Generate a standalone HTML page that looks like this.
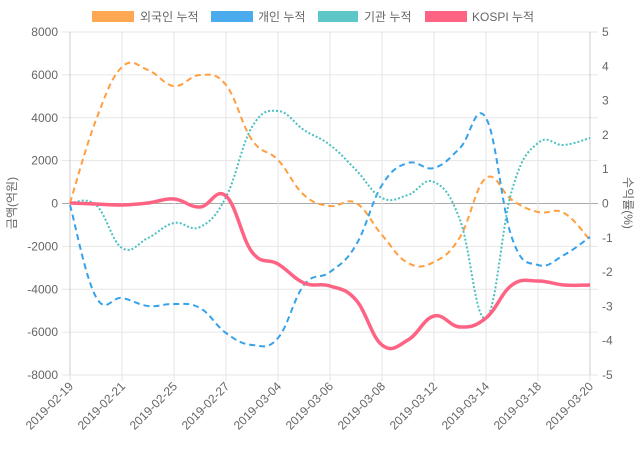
<!DOCTYPE html>
<html><head><meta charset="utf-8"><style>
body{margin:0;background:#fff;}
svg{display:block;font-family:"Liberation Sans","Noto Sans CJK KR",sans-serif;}
</style></head><body>
<svg id="c" width="640" height="450" xmlns="http://www.w3.org/2000/svg">
<g id="grid"></g>
<g font-size="12" fill="#666">
<rect x="92" y="11" width="42" height="11" fill="#ff9f40" opacity="0.9"/>
<text x="140" y="21">외국인 누적</text>
<rect x="211" y="11" width="42" height="11" fill="#36a2eb" opacity="0.9"/>
<text x="258" y="21">개인 누적</text>
<rect x="318" y="11" width="40" height="11" fill="#4bc0c0" opacity="0.9"/>
<text x="364" y="21">기관 누적</text>
<rect x="425" y="11" width="42" height="11" fill="#ff6384"/>
<text x="472" y="21">KOSPI 누적</text>
<text transform="translate(16,203) rotate(-90)" text-anchor="middle">금액(억원)</text>
<text transform="translate(624,203) rotate(90)" text-anchor="middle">수익률(%)</text>
</g>
<g id="lines"></g>
</svg>
<script>
(function(){
const NS="http://www.w3.org/2000/svg";
const g=document.getElementById('grid'),L=document.getElementById('lines');
function el(p,t,a,txt){const e=document.createElementNS(NS,t);for(const k in a)e.setAttribute(k,a[k]);if(txt!==undefined)e.textContent=txt;p.appendChild(e);return e;}
const yT=32,yB=375,x0=70,x1=590;
for(let i=0;i<=8;i++){const y=yT+(yB-yT)*i/8;const v=8000-2000*i;
 el(g,'line',{x1:62,x2:598,y1:y,y2:y,stroke:v==0?'#aaa':'#e6e6e6','stroke-width':1});
 el(g,'text',{x:58,y:y+4,'text-anchor':'end','font-size':12,fill:'#666'},String(v));
}
for(let i=0;i<=10;i++){const y=yT+(yB-yT)*i/10;el(g,'text',{x:602,y:y+4,'font-size':12,fill:'#666'},String(5-i));}
const labs=['2019-02-19','2019-02-21','2019-02-25','2019-02-27','2019-03-04','2019-03-06','2019-03-08','2019-03-12','2019-03-14','2019-03-18','2019-03-20'];
labs.forEach((s,i)=>{const x=x0+52*i;el(g,'line',{x1:x,x2:x,y1:yT,y2:yB+6,stroke:'#e6e6e6'});
 el(g,'text',{transform:'translate('+(x+4)+','+(yB+12)+') rotate(-45)','text-anchor':'end','font-size':12,fill:'#666'},s);});
el(g,'line',{x1:x0,x2:x0,y1:yT,y2:yB,stroke:'#ccc'});
el(g,'line',{x1:x1,x2:x1,y1:yT,y2:yB,stroke:'#ccc'});
function path(ys){const pts=ys.map((y,i)=>[x0+26*i,y]);let d='M'+pts[0][0]+','+pts[0][1];const t=0.2;
 for(let i=0;i<pts.length-1;i++){const p0=pts[Math.max(0,i-1)],p1=pts[i],p2=pts[i+1],p3=pts[Math.min(pts.length-1,i+2)];
  const c1=[p1[0]+(p2[0]-p0[0])*t,p1[1]+(p2[1]-p0[1])*t],c2=[p2[0]-(p3[0]-p1[0])*t,p2[1]-(p3[1]-p1[1])*t];
  d+=' C'+c1[0]+','+c1[1]+' '+c2[0]+','+c2[1]+' '+p2[0]+','+p2[1];}return d;}
const S=[
[[203,120,67,70,86,75,85,140,160,195,206,203,235,263,262,237,178,200,212,213,240],'#ff9f40','6,4',2],
[[205,297,298,306,304,308,333,345,338,285,272,245,185,163,168,148,118,238,265,255,237],'#36a2eb','6,4',2],
[[203,205,248,238,223,227,197,127,111,130,145,170,198,195,182,220,318,190,143,145,138],'#4bc0c0','2,2',2],
[[203,204,205,203,199,207,196,252,264,283,286,300,345,340,316,327,318,285,281,285,285],'#ff6384','',3.5]];
S.forEach(s=>{const a={d:path(s[0]),fill:'none',stroke:s[1],'stroke-width':s[3]};if(s[2])a['stroke-dasharray']=s[2];el(L,'path',a);});
})();
</script>
</body></html>
